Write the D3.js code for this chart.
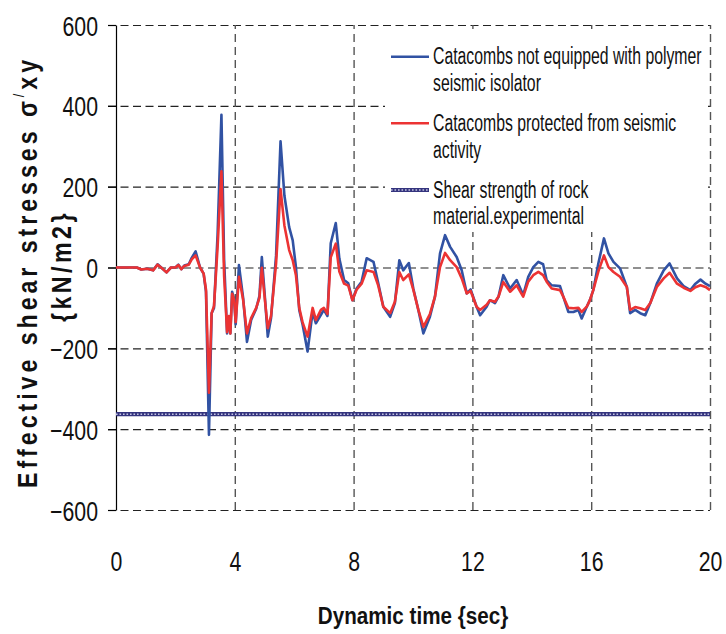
<!DOCTYPE html>
<html><head><meta charset="utf-8">
<script src="https://cdn.jsdelivr.net/npm/d3@7"></script>
<style>
body{margin:0;background:#fff}
svg{display:block}
text{font-family:"Liberation Sans",Arial,Helvetica,sans-serif}
</style>
</head><body>
<svg id="chart" width="726" height="634"></svg>
<script>
// ---------- data ----------
const time = [0,0.35,0.7,0.85,1.05,1.25,1.4,1.55,1.7,1.85,2.0,2.1,2.2,2.3,2.45,2.55,2.68,2.83,2.95,3.03,3.13,3.22,3.3,3.42,3.55,3.64,3.74,3.8,3.85,3.91,3.98,4.03,4.14,4.28,4.41,4.55,4.72,4.83,4.91,5.0,5.11,5.22,5.39,5.54,5.67,5.83,5.95,6.06,6.17,6.28,6.45,6.62,6.73,6.9,7.0,7.12,7.23,7.4,7.52,7.68,7.82,7.96,8.1,8.27,8.44,8.67,8.83,9.0,9.23,9.39,9.54,9.67,9.86,10.01,10.18,10.35,10.57,10.74,10.91,11.08,11.25,11.47,11.64,11.81,11.94,12.14,12.26,12.48,12.59,12.76,12.88,13.04,13.27,13.49,13.71,13.88,14.05,14.22,14.38,14.5,14.67,14.95,15.06,15.23,15.4,15.57,15.68,15.85,15.96,16.07,16.24,16.43,16.58,16.75,16.97,17.2,17.31,17.48,17.65,17.82,17.99,18.21,18.44,18.64,18.89,19.11,19.34,19.51,19.68,19.85,20.0];
const notEquipped = [0,0,0,-5,-3,-7,8,-2,-12,0,0,7,-4,5,8,24,40,0,-15,-60,-414,-113,-100,80,378,20,-163,-125,-163,-60,-80,-140,6,-75,-184,-130,-102,-70,26,-60,-171,-125,30,312,178,100,67,0,-105,-140,-208,-110,-138,-117,-105,-120,60,110,22,-31,-39,-81,-52,-35,23,14,-39,-97,-122,-88,18,-7,11,-52,-105,-163,-122,-72,35,80,51,26,-7,-64,-54,-97,-118,-97,-81,-88,-72,-19,-52,-31,-68,-23,1,14,8,-31,-44,-46,-72,-110,-110,-105,-126,-97,-80,-56,10,72,35,14,-2,-48,-113,-105,-113,-118,-88,-40,-7,10,-27,-46,-56,-40,-30,-40,-46];
const protectedCat = [0,0,0,-5,-3,-7,7,-2,-12,0,0,6,-4,4,7,20,30,0,-15,-55,-310,-113,-95,50,238,-20,-160,-120,-163,-65,-80,-135,-23,-80,-163,-125,-100,-75,-1,-70,-150,-120,10,194,104,43,18,-20,-100,-135,-171,-100,-130,-105,-100,-115,25,59,-10,-40,-45,-81,-55,-40,-7,-11,-45,-97,-113,-85,-11,-31,-17,-55,-105,-147,-115,-72,1,36,18,1,-27,-64,-58,-97,-105,-92,-81,-85,-72,-36,-60,-44,-72,-35,-19,-11,-19,-35,-52,-56,-72,-100,-101,-100,-110,-97,-80,-56,-10,30,1,-11,-23,-48,-105,-98,-101,-105,-88,-48,-27,-13,-40,-50,-58,-49,-44,-48,-56];
const rockStrength = -363;
const xTickValues = [0,4,8,12,16,20];
const yTickValues = [600,400,200,0,-200,-400,-600];
const legendLabels = [
  ["Catacombs not equipped with polymer","seismic isolator"],
  ["Catacombs protected from seismic","activity"],
  ["Shear strength of rock","material.experimental"]
];
const xTitle = "Dynamic time {sec}";

// ---------- layout ----------
const svg = d3.select("#chart");
const L = 116, R = 710, T = 25, B = 510;
const x = d3.scaleLinear().domain([0,20]).range([L,R]);
const y = d3.scaleLinear().domain([-600,600]).range([B,T]);
const blue = "#3152a3", red = "#ec3333", navy = "#34347e";

// horizontal grid
const gy = svg.append("g").attr("transform",`translate(108,0)`)
  .call(d3.axisRight(y).tickValues(yTickValues).tickSize(R-108).tickFormat(""));
gy.select(".domain").remove();
gy.selectAll("line").attr("stroke","#222").attr("stroke-width",1.2).attr("stroke-dasharray","8,4.5");

// vertical grid
const gx = svg.append("g").attr("transform",`translate(0,${B})`)
  .call(d3.axisBottom(x).tickValues(xTickValues.filter(d=>d>0)).tickSize(-(B-T)).tickFormat(""));
gx.select(".domain").remove();
gx.selectAll("line").attr("stroke","#555").attr("stroke-width",1.4).attr("stroke-dasharray","8,5");

// legend box (white background over grid)
svg.append("rect").attr("x",385).attr("y",33).attr("width",323).attr("height",199).attr("fill","#fff");

// y axis (solid line + ticks + labels)
const ay = svg.append("g").attr("transform",`translate(${L},0)`)
  .call(d3.axisLeft(y).tickValues(yTickValues).tickSize(8).tickSizeOuter(0).tickPadding(0));
ay.select(".domain").attr("stroke","#000").attr("stroke-width",1.2);
ay.selectAll("line").attr("stroke","#000").attr("stroke-width",1.2);
ay.selectAll("text").attr("x",0).attr("dy",0).attr("fill","#111")
  .attr("font-size",28).attr("text-anchor","end")
  .attr("transform","translate(-18,10) scale(0.76,1)");

// x axis labels
const ax = svg.append("g").attr("transform",`translate(0,${B})`)
  .call(d3.axisBottom(x).tickValues(xTickValues).tickSize(0).tickPadding(0));
ax.select(".domain").remove();
ax.selectAll("text").attr("y",0).attr("dy",0).attr("fill","#111")
  .attr("font-size",28).attr("transform","translate(0,61) scale(0.76,1)");

// rock strength line
function rockLine(g, x1, x2, yy){
  g.append("line").attr("x1",x1).attr("x2",x2).attr("y1",yy).attr("y2",yy)
    .attr("stroke",navy).attr("stroke-width",4.2);
  g.append("line").attr("x1",x1).attr("x2",x2).attr("y1",yy).attr("y2",yy)
    .attr("stroke","#c4c4e2").attr("stroke-width",1.5).attr("stroke-dasharray","1.6,1.9");
}
rockLine(svg.append("g"), x(0), x(20), y(rockStrength));

// data lines
const line = d3.line().x((d,i)=>x(time[i])).y(d=>y(d)).curve(d3.curveLinear);
svg.append("path").datum(notEquipped).attr("d",line).attr("fill","none")
  .attr("stroke",blue).attr("stroke-width",2.6).attr("stroke-linejoin","round");
svg.append("path").datum(protectedCat).attr("d",line).attr("fill","none")
  .attr("stroke",red).attr("stroke-width",2.6).attr("stroke-linejoin","round");

// legend
const lg = svg.append("g");
const legY = [56.7, 123.3, 190];
const legColors = [blue, red, null];
legendLabels.forEach((lines, i) => {
  const yy = legY[i];
  if (legColors[i]) {
    lg.append("line").attr("x1",391).attr("x2",429).attr("y1",yy).attr("y2",yy)
      .attr("stroke",legColors[i]).attr("stroke-width",2.6);
  } else {
    rockLine(lg, 391, 429, yy);
  }
  lines.forEach((t, j) => {
    lg.append("text").text(t).attr("font-size",23.5).attr("fill","#111")
      .attr("transform",`translate(433,${yy + 7.5 + j*26.7}) scale(0.672,1)`);
  });
});

// x title
svg.append("text").text(xTitle).attr("font-size",24).attr("font-weight","bold")
  .attr("text-anchor","middle").attr("fill","#111")
  .attr("transform",`translate(${(L+R)/2},624) scale(0.86,1)`);

// y title (rotated, letter spaced, condensed glyphs)
const ySx = 0.86;
function fitRotated(el, target){
  const n = el.text().length;
  const len = el.node().getComputedTextLength();
  el.attr("letter-spacing", ((target / ySx - len) / n).toFixed(2));
}
const yt1 = svg.append("text").attr("font-size",27).attr("font-weight","bold").attr("fill","#111")
  .attr("text-anchor","middle").attr("transform",`translate(37,272) rotate(-90) scale(${ySx},1)`);
yt1.append("tspan").text("Effective shear stresses σ");
yt1.append("tspan").text("/").attr("font-size",15).attr("dy",-13).attr("font-weight","normal");
yt1.append("tspan").text("xy").attr("dy",13);
fitRotated(yt1, 432);
const yt2 = svg.append("text").text("{kN/m2}").attr("font-size",27).attr("font-weight","bold").attr("fill","#111")
  .attr("text-anchor","middle").attr("transform",`translate(71,266) rotate(-90) scale(${ySx},1)`);
fitRotated(yt2, 112);
</script>
</body></html>
